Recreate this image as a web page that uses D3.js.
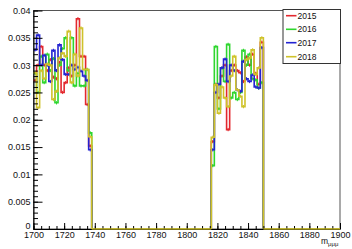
<!DOCTYPE html>
<html><head><meta charset="utf-8">
<script src="https://cdn.jsdelivr.net/npm/d3@7"></script>
<style>
html,body{margin:0;padding:0;background:#fff;}
svg{display:block;font-family:"Liberation Sans",Arial,Helvetica,sans-serif;}
</style></head>
<body>
<svg id="c" width="352" height="249"></svg>
<script>
// ---- data ----
const years = ["2015","2016","2017","2018"];
const colors = ["#e3282e","#2ed62e","#2323d2","#cfc22a"];
const binWidth = 2;
const group1Start = 1700; // bins 1700..1736
const group2Start = 1816; // bins 1816..1848
const red1    = [0.0272,0.0300,0.0334,0.0300,0.0290,0.0310,0.0278,0.0275,0.0305,0.0250,0.0268,0.0295,0.0280,0.0300,0.0385,0.0316,0.0316,0.0228,0.0152];
const green1  = [0.0285,0.0250,0.0316,0.0268,0.0320,0.0290,0.0312,0.0231,0.0300,0.0330,0.0350,0.0290,0.0350,0.0262,0.0285,0.0262,0.0262,0.0292,0.0176];
const blue1   = [0.0328,0.0355,0.0300,0.0318,0.0300,0.0270,0.0327,0.0290,0.0337,0.0310,0.0283,0.0283,0.0300,0.0292,0.0296,0.0289,0.0280,0.0272,0.0145];
const yellow1 = [0.0286,0.0222,0.0290,0.0275,0.0302,0.0300,0.0237,0.0252,0.0313,0.0322,0.0316,0.0362,0.0268,0.0320,0.0280,0.0368,0.0292,0.0292,0.0169];
const red2    = [0.0160,0.0265,0.0240,0.0280,0.0300,0.0182,0.0290,0.0300,0.0290,0.0286,0.0270,0.0315,0.0300,0.0320,0.0285,0.0265,0.0342];
const green2  = [0.0116,0.0334,0.0220,0.0295,0.0270,0.0338,0.0240,0.0250,0.0237,0.0250,0.0327,0.0300,0.0320,0.0275,0.0273,0.0258,0.0268];
const blue2   = [0.0145,0.0250,0.0265,0.0295,0.0311,0.0270,0.0300,0.0290,0.0255,0.0252,0.0307,0.0275,0.0270,0.0282,0.0260,0.0258,0.0332];
const yellow2 = [0.0168,0.0264,0.0212,0.0260,0.0240,0.0224,0.0280,0.0316,0.0255,0.0243,0.0224,0.0310,0.0313,0.0328,0.0283,0.0295,0.0350];
const xTicks = [1700,1720,1740,1760,1780,1800,1820,1840,1860,1880,1900];
const xTickLabels = ["1700","1720","1740","1760","1780","1800","1820","1840","1860","1880","1900"];
const yTicks = [0,0.005,0.01,0.015,0.02,0.025,0.03,0.035,0.04];
const yTickLabels = ["0","0.005","0.01","0.015","0.02","0.025","0.03","0.035","0.04"];

const g1 = [red1,green1,blue1,yellow1];
const g2 = [red2,green2,blue2,yellow2];

// ---- build histograms ----
function buildHist(a,b){
  const bins=[];
  for(let e=1700;e<1900;e+=binWidth){
    let v=0;
    const i1=(e-group1Start)/binWidth, i2=(e-group2Start)/binWidth;
    if(i1>=0 && i1<a.length) v=a[i1];
    else if(i2>=0 && i2<b.length) v=b[i2];
    bins.push({x0:e,x1:e+binWidth,v});
  }
  return bins;
}
const hists = years.map((yr,k)=>({year:yr,color:colors[k],bins:buildHist(g1[k],g2[k])}));

// ---- scales ----
const svg = d3.select("#c");
const x = d3.scaleLinear().domain([1700,1900]).range([33.5,340]);
const y = d3.scaleLinear().domain([0,0.04]).range([229,10.5]);

// frame
svg.append("rect").attr("x",x(1700)).attr("y",y(0.04)).attr("width",x(1900)-x(1700)).attr("height",y(0)-y(0.04))
  .attr("fill","none").attr("stroke","#555").attr("stroke-width",1);

// histograms
const line = d3.line().x(d=>x(d[0])).y(d=>y(d[1])).curve(d3.curveStepAfter);
hists.forEach(h=>{
  const pts = h.bins.map(b=>[b.x0,b.v]);
  pts.push([1900,0]);
  svg.append("path").attr("d",line(pts)).attr("fill","none")
    .attr("stroke",h.color).attr("stroke-width",1.6).attr("stroke-linejoin","miter");
  // small error bars
  svg.append("g").selectAll("line").data(h.bins.filter(b=>b.v>0)).join("line")
    .attr("x1",b=>x((b.x0+b.x1)/2)).attr("x2",b=>x((b.x0+b.x1)/2))
    .attr("y1",b=>y(b.v-0.0003)).attr("y2",b=>y(b.v+0.0003))
    .attr("stroke",h.color).attr("stroke-width",1);
});

// axes
const fs = "9px";
const yMinor = d3.range(0,0.0401,0.001);
svg.append("g").attr("transform",`translate(${x(1700)},0)`)
  .call(d3.axisLeft(y).tickValues(yMinor).tickSize(-4.5).tickSizeOuter(0).tickFormat(""))
  .call(g=>g.select(".domain").remove());
svg.append("g").attr("transform",`translate(${x(1700)},0)`)
  .call(d3.axisLeft(y).tickValues(yTicks).tickSize(-9).tickSizeOuter(0).tickPadding(3)
    .tickFormat((d,i)=>yTickLabels[i]))
  .call(g=>g.selectAll("text").attr("font-size",fs).attr("fill","#111").attr("font-family",null))
  .call(g=>g.selectAll("text").filter(d=>d===0).attr("dy","-0.05em"))
  .call(g=>g.select(".domain").attr("stroke","#000"));

const xMinor = d3.range(1700,1901,5);
svg.append("g").attr("transform",`translate(0,${y(0)})`)
  .call(d3.axisBottom(x).tickValues(xMinor).tickSize(-3).tickSizeOuter(0).tickFormat(""))
  .call(g=>g.select(".domain").remove());
svg.append("g").attr("transform",`translate(0,${y(0)})`)
  .call(d3.axisBottom(x).tickValues(xTicks).tickSize(-6).tickSizeOuter(0).tickPadding(3)
    .tickFormat((d,i)=>xTickLabels[i]))
  .call(g=>g.selectAll("text").attr("font-size",fs).attr("fill","#111").attr("font-family",null))
  .call(g=>g.select(".domain").attr("stroke","#000"));

// redraw zero-line of top histogram over axis (yellow on top as in ROOT)
svg.append("line").attr("x1",x(1738)).attr("x2",x(1816)).attr("y1",y(0)).attr("y2",y(0))
  .attr("stroke",colors[3]).attr("stroke-width",1.6).attr("opacity",0.8);
svg.append("line").attr("x1",x(1850)).attr("x2",x(1900)).attr("y1",y(0)).attr("y2",y(0))
  .attr("stroke",colors[3]).attr("stroke-width",1.6).attr("opacity",0.8);

// axis title
const t = svg.append("text").attr("x",321).attr("y",244).attr("font-size","8.5px").attr("fill","#111");
t.append("tspan").text("m");
t.append("tspan").attr("font-size","6px").attr("dy",2).text("μμμ");

// legend
const lg = svg.append("g");
lg.append("rect").attr("x",283).attr("y",9.5).attr("width",57.5).attr("height",54)
  .attr("fill","#fff").attr("stroke","#333").attr("stroke-width",1);
const ly = [15.7,29.3,42.7,56.7];
years.forEach((yr,k)=>{
  lg.append("line").attr("x1",286).attr("x2",296.5).attr("y1",ly[k]).attr("y2",ly[k])
    .attr("stroke",colors[k]).attr("stroke-width",1.6);
  lg.append("text").attr("x",297.5).attr("y",ly[k]).attr("dy","0.35em")
    .attr("font-size","8.5px").attr("fill","#111").text(yr);
});
</script>
</body></html>
